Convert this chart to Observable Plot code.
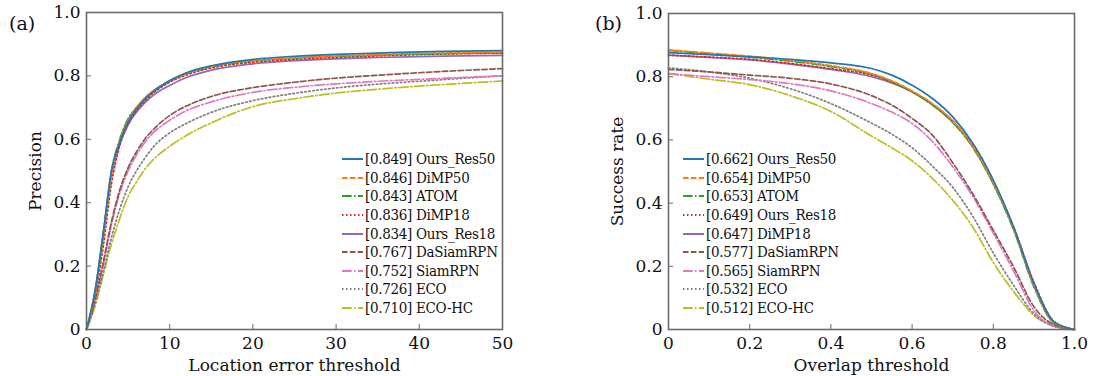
<!DOCTYPE html>
<html><head><meta charset="utf-8">
<script src="https://cdn.jsdelivr.net/npm/d3@7"></script>
<script src="https://cdn.jsdelivr.net/npm/@observablehq/plot@0.6"></script>
<style>
body{margin:0;background:#fff;font-family:"DejaVu Serif",serif;color:#111;}
#wrap{position:relative;width:1118px;height:376px;overflow:hidden;background:#fff;}
.panel{position:absolute;top:0;}
.tag{position:absolute;font-size:19px;line-height:20px;}
.legend{position:absolute;font-size:15px;font-stretch:semi-condensed;letter-spacing:-0.3px;}
.legend .row{display:flex;align-items:center;height:18.6px;white-space:nowrap;}
.legend svg{display:block;margin-right:2px;}
</style></head><body><div id="wrap"></div><script>
// ---------- shared style lists ----------
const seriesColors = ["#1f77b4","#ff7f0e","#2ca02c","#d62728","#9467bd","#8c564b","#e377c2","#7f7f7f","#bcbd22"];
const seriesDashes = ["none","5.5,2.4","9.6,2.4,1.5,2.4","1.5,2.5","none","5.5,2.4","9.6,2.4,1.5,2.4","1.5,2.5","9.6,2.4,1.5,2.4"];

// ---------- (a) precision plot ----------
const precNames = ["Ours_Res50","DiMP50","ATOM","DiMP18","Ours_Res18","DaSiamRPN","SiamRPN","ECO","ECO-HC"];
const precScores = ["0.849","0.846","0.843","0.836","0.834","0.767","0.752","0.726","0.710"];
const precThresholds = [0,1,2,3,4,5,6,7,8,10,12,15,20,25,30,35,40,45,50];
const precOursRes50 = [0,0.115,0.30,0.50,0.59,0.655,0.695,0.725,0.75,0.785,0.81,0.832,0.852,0.862,0.868,0.872,0.876,0.878,0.88];
const precDiMP50    = [0,0.11,0.29,0.49,0.595,0.66,0.70,0.73,0.752,0.785,0.808,0.83,0.848,0.857,0.863,0.867,0.871,0.873,0.875];
const precATOM      = [0,0.11,0.30,0.50,0.60,0.665,0.70,0.73,0.752,0.785,0.807,0.828,0.847,0.856,0.862,0.866,0.869,0.871,0.873];
const precDiMP18    = [0,0.10,0.26,0.46,0.58,0.65,0.69,0.72,0.745,0.78,0.803,0.825,0.843,0.852,0.858,0.863,0.867,0.870,0.872];
const precOursRes18 = [0,0.12,0.30,0.49,0.585,0.645,0.685,0.715,0.738,0.77,0.795,0.818,0.838,0.848,0.854,0.858,0.861,0.863,0.865];
const precDaSiamRPN = [0,0.09,0.21,0.34,0.44,0.51,0.56,0.60,0.63,0.675,0.705,0.735,0.763,0.78,0.793,0.802,0.81,0.817,0.823];
const precSiamRPN   = [0,0.085,0.20,0.33,0.43,0.50,0.55,0.59,0.62,0.66,0.69,0.718,0.748,0.764,0.775,0.783,0.789,0.795,0.80];
const precECO       = [0,0.08,0.18,0.29,0.38,0.45,0.50,0.54,0.575,0.62,0.65,0.685,0.722,0.745,0.762,0.774,0.783,0.792,0.80];
const precECOHC     = [0,0.07,0.17,0.27,0.35,0.42,0.465,0.505,0.535,0.578,0.612,0.652,0.703,0.728,0.746,0.758,0.768,0.776,0.784];
const precSeries = [precOursRes50,precDiMP50,precATOM,precDiMP18,precOursRes18,precDaSiamRPN,precSiamRPN,precECO,precECOHC];
const precXTicks = [0,10,20,30,40,50];
const precXTickLabels = ["0","10","20","30","40","50"];

// ---------- (b) success plot ----------
const succNames = ["Ours_Res50","DiMP50","ATOM","Ours_Res18","DiMP18","DaSiamRPN","SiamRPN","ECO","ECO-HC"];
const succScores = ["0.662","0.654","0.653","0.649","0.647","0.577","0.565","0.532","0.512"];
const succThresholds = [0,0.1,0.2,0.3,0.4,0.5,0.55,0.6,0.65,0.7,0.75,0.8,0.85,0.9,0.95,1.0];
const succOursRes50 = [0.876,0.870,0.863,0.855,0.844,0.826,0.805,0.773,0.731,0.673,0.589,0.473,0.325,0.146,0.024,0];
const succDiMP50    = [0.885,0.875,0.865,0.852,0.835,0.810,0.787,0.755,0.715,0.660,0.580,0.465,0.320,0.140,0.022,0];
const succATOM      = [0.883,0.873,0.862,0.849,0.832,0.808,0.784,0.752,0.710,0.655,0.575,0.460,0.315,0.135,0.020,0];
const succOursRes18 = [0.868,0.862,0.855,0.842,0.825,0.805,0.783,0.752,0.712,0.657,0.580,0.465,0.325,0.150,0.025,0];
const succDiMP18    = [0.868,0.861,0.853,0.840,0.823,0.800,0.780,0.752,0.713,0.660,0.580,0.463,0.320,0.140,0.022,0];
const succDaSiamRPN = [0.823,0.815,0.805,0.795,0.777,0.740,0.710,0.668,0.615,0.528,0.428,0.314,0.198,0.072,0.015,0];
const succSiamRPN   = [0.810,0.800,0.791,0.778,0.755,0.715,0.688,0.652,0.595,0.515,0.420,0.305,0.185,0.060,0.012,0];
const succECO       = [0.828,0.815,0.795,0.762,0.715,0.653,0.618,0.575,0.517,0.450,0.357,0.242,0.140,0.050,0.010,0];
const succECOHC     = [0.810,0.792,0.775,0.740,0.690,0.612,0.575,0.534,0.478,0.409,0.323,0.212,0.120,0.045,0.010,0];
const succSeries = [succOursRes50,succDiMP50,succATOM,succOursRes18,succDiMP18,succDaSiamRPN,succSiamRPN,succECO,succECOHC];
const succXTicks = [0,0.2,0.4,0.6,0.8,1.0];
const succXTickLabels = ["0","0.2","0.4","0.6","0.8","1.0"];

const yTicks = [0,0.2,0.4,0.6,0.8,1.0];
const yTickLabels = ["0","0.2","0.4","0.6","0.8","1.0"];

function panel({xs, series, xDomain, xTicks, xTickLabels, xLabel, yLabel, width, mL, mR, mT, mB}) {
  const lines = series.map((vals, i) => Plot.line(xs.map((x, j) => ({x, y: vals[j]})), {
    x: "x", y: "y", stroke: seriesColors[i], strokeWidth: 1.7,
    strokeDasharray: seriesDashes[i] === "none" ? null : seriesDashes[i],
    curve: "monotone-x"
  })).reverse();
  return Plot.plot({
    width, height: 376,
    marginLeft: mL, marginRight: mR, marginTop: mT, marginBottom: mB,
    x: {domain: xDomain},
    y: {domain: [0, 1]},
    style: {fontFamily: "'DejaVu Serif', serif", fontSize: "16px", color: "#111", background: "transparent", overflow: "visible"},
    marks: [
      ...lines,
      Plot.frame({stroke: "#6a6a6a", strokeWidth: 1.6}),
      Plot.axisX({ticks: xTicks, tickFormat: d => xTickLabels[xTicks.indexOf(d)], tickSize: -5, tickPadding: 12, stroke: "#6a6a6a",
                  label: xLabel, labelAnchor: "center", labelOffset: 41, labelArrow: "none", fontSize: 17}),
      Plot.axisY({ticks: yTicks, tickFormat: d => yTickLabels[yTicks.indexOf(d)], tickSize: -5, tickPadding: 11, stroke: "#6a6a6a",
                  label: yLabel, labelAnchor: "center", labelOffset: 58, labelArrow: "none", fontSize: 17})
    ]
  });
}

function legend(names, scores, left, top, sampleW) {
  const div = document.createElement("div");
  div.className = "legend";
  div.style.left = left + "px";
  div.style.top = top + "px";
  names.forEach((n, i) => {
    const row = document.createElement("div");
    row.className = "row";
    const dash = seriesDashes[i] === "none" ? "" : `stroke-dasharray="${seriesDashes[i]}"`;
    row.innerHTML = `<svg width="${sampleW}" height="6"><line x1="0" y1="3" x2="${sampleW}" y2="3" stroke="${seriesColors[i]}" stroke-width="2" ${dash}/></svg><span>[${scores[i]}] ${n}</span>`;
    div.appendChild(row);
  });
  return div;
}

const wrap = document.getElementById("wrap");
const pa = panel({xs: precThresholds, series: precSeries, xDomain: [0, 50], xTicks: precXTicks, xTickLabels: precXTickLabels,
  xLabel: "Location error threshold", yLabel: "Precision", width: 540, mL: 86, mR: 38, mT: 12, mB: 47});
pa.classList.add("panel"); pa.style.left = "0px";
wrap.appendChild(pa);

const pb = panel({xs: succThresholds, series: succSeries, xDomain: [0, 1], xTicks: succXTicks, xTickLabels: succXTickLabels,
  xLabel: "Overlap threshold", yLabel: "Success rate", width: 548, mL: 98, mR: 44, mT: 13, mB: 47});
pb.classList.add("panel"); pb.style.left = "570px";
wrap.appendChild(pb);

wrap.appendChild(legend(precNames, precScores, 342, 150, 21));
wrap.appendChild(legend(succNames, succScores, 683, 150, 21));

const ta = document.createElement("div"); ta.className = "tag"; ta.textContent = "(a)"; ta.style.left = "9px"; ta.style.top = "13px"; wrap.appendChild(ta);
const tb = document.createElement("div"); tb.className = "tag"; tb.textContent = "(b)"; tb.style.left = "595px"; tb.style.top = "13px"; wrap.appendChild(tb);
</script></body></html>
